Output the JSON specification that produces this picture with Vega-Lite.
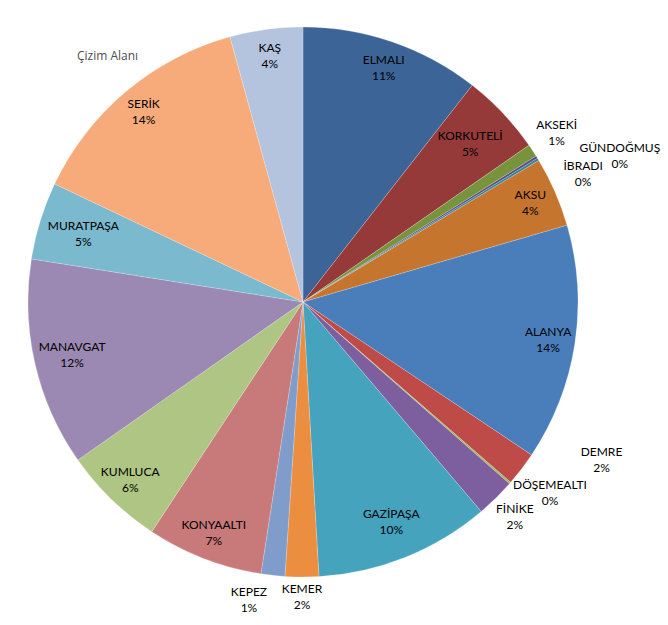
{
  "$schema": "https://vega.github.io/schema/vega-lite/v6.json",
  "width": 606,
  "height": 604,
  "padding": {"left": 0, "top": 0, "right": 62, "bottom": 21},
  "autosize": {"type": "none"},
  "background": "#ffffff",
  "title": {"text": "Çizim Alanı", "anchor": "start", "frame": "group", "orient": "top", "offset": 0, "dx": 77, "dy": 66, "fontSize": 12, "font": "Open Sans", "fontWeight": "normal", "color": "#4d4d4d"},
  "data": {
    "values": [
      {"sira": 1, "ad": "ELMALI", "deger": 10.56},
      {"sira": 2, "ad": "KORKUTELİ", "deger": 4.8},
      {"sira": 3, "ad": "AKSEKİ", "deger": 0.75},
      {"sira": 4, "ad": "GÜNDOĞMUŞ", "deger": 0.15},
      {"sira": 5, "ad": "İBRADI", "deger": 0.15},
      {"sira": 6, "ad": "AKSU", "deger": 4.1},
      {"sira": 7, "ad": "ALANYA", "deger": 13.9},
      {"sira": 8, "ad": "DEMRE", "deger": 2.0},
      {"sira": 9, "ad": "DÖŞEMEALTI", "deger": 0.1},
      {"sira": 10, "ad": "FİNİKE", "deger": 2.3},
      {"sira": 11, "ad": "GAZİPAŞA", "deger": 10.3},
      {"sira": 12, "ad": "KEMER", "deger": 1.97},
      {"sira": 13, "ad": "KEPEZ", "deger": 1.4},
      {"sira": 14, "ad": "KONYAALTI", "deger": 6.83},
      {"sira": 15, "ad": "KUMLUCA", "deger": 6.0},
      {"sira": 16, "ad": "MANAVGAT", "deger": 12.25},
      {"sira": 17, "ad": "MURATPAŞA", "deger": 4.56},
      {"sira": 18, "ad": "SERİK", "deger": 13.67},
      {"sira": 19, "ad": "KAŞ", "deger": 4.28}
    ]
  },
  "transform": [
    {"calculate": "datum.ad + '\\n' + format(datum.deger / 100, '.0%')", "as": "etiket"}
  ],
  "encoding": {
    "theta": {"field": "deger", "type": "quantitative", "stack": true},
    "order": {"field": "sira", "type": "quantitative", "sort": "ascending"}
  },
  "layer": [
    {
      "mark": {"type": "arc", "outerRadius": 275, "stroke": "#ffffff", "strokeWidth": 0.5, "strokeOpacity": 0.4},
      "encoding": {
        "color": {
          "field": "ad", "type": "nominal", "legend": null, "sort": null,
          "scale": {
            "domain": ["ELMALI", "KORKUTELİ", "AKSEKİ", "GÜNDOĞMUŞ", "İBRADI", "AKSU", "ALANYA", "DEMRE", "DÖŞEMEALTI", "FİNİKE", "GAZİPAŞA", "KEMER", "KEPEZ", "KONYAALTI", "KUMLUCA", "MANAVGAT", "MURATPAŞA", "SERİK", "KAŞ"],
            "range": ["#3C6496", "#953A39", "#77933C", "#5E4A7E", "#31849B", "#C6752F", "#4A7EBB", "#BE4B48", "#98B954", "#7D5FA0", "#46A3BE", "#EB8E40", "#7F9CCB", "#C8797A", "#AEC584", "#9B89B4", "#7AB9CE", "#F7AB7B", "#B4C3DE"]
          }
        }
      }
    },
    {
      "mark": {"type": "text", "radius": 248, "dy": -8, "lineBreak": "\n", "lineHeight": 16, "font": "Lato", "fontSize": 12, "fill": "#000000", "align": "center", "baseline": "middle"},
      "encoding": {"text": {"condition": {"test": "indexof(['ELMALI','AKSU','ALANYA','KONYAALTI','KUMLUCA','SERİK','KAŞ'], datum.ad) >= 0", "field": "etiket"}, "value": ""}}
    },
    {
      "mark": {"type": "text", "radius": 237, "dy": -8, "lineBreak": "\n", "lineHeight": 16, "font": "Lato", "fontSize": 12, "fill": "#000000", "align": "center", "baseline": "middle"},
      "encoding": {"text": {"condition": {"test": "indexof(['GAZİPAŞA','MANAVGAT'], datum.ad) >= 0", "field": "etiket"}, "value": ""}}
    },
    {
      "mark": {"type": "text", "radius": 230, "dy": -8, "lineBreak": "\n", "lineHeight": 16, "font": "Lato", "fontSize": 12, "fill": "#000000", "align": "center", "baseline": "middle"},
      "encoding": {"text": {"condition": {"test": "indexof(['KORKUTELİ','MURATPAŞA'], datum.ad) >= 0", "field": "etiket"}, "value": ""}}
    },
    {
      "mark": {"type": "text", "radius": 275, "dx": 24, "dy": -26, "lineBreak": "\n", "lineHeight": 16, "font": "Lato", "fontSize": 12, "fill": "#000000", "align": "center", "baseline": "middle"},
      "encoding": {"text": {"condition": {"test": "datum.ad === 'AKSEKİ'", "field": "etiket"}, "value": ""}}
    },
    {
      "mark": {"type": "text", "radius": 275, "dx": 83, "dy": -9, "lineBreak": "\n", "lineHeight": 16, "font": "Lato", "fontSize": 12, "fill": "#000000", "align": "center", "baseline": "middle"},
      "encoding": {"text": {"condition": {"test": "datum.ad === 'GÜNDOĞMUŞ'", "field": "etiket"}, "value": ""}}
    },
    {
      "mark": {"type": "text", "radius": 275, "dx": 45, "dy": 7, "lineBreak": "\n", "lineHeight": 16, "font": "Lato", "fontSize": 12, "fill": "#000000", "align": "center", "baseline": "middle"},
      "encoding": {"text": {"condition": {"test": "datum.ad === 'İBRADI'", "field": "etiket"}, "value": ""}}
    },
    {
      "mark": {"type": "text", "radius": 275, "dx": 80, "dy": -17, "lineBreak": "\n", "lineHeight": 16, "font": "Lato", "fontSize": 12, "fill": "#000000", "align": "center", "baseline": "middle"},
      "encoding": {"text": {"condition": {"test": "datum.ad === 'DEMRE'", "field": "etiket"}, "value": ""}}
    },
    {
      "mark": {"type": "text", "radius": 275, "dx": 40, "dy": 2, "lineBreak": "\n", "lineHeight": 16, "font": "Lato", "fontSize": 12, "fill": "#000000", "align": "center", "baseline": "middle"},
      "encoding": {"text": {"condition": {"test": "datum.ad === 'DÖŞEMEALTI'", "field": "etiket"}, "value": ""}}
    },
    {
      "mark": {"type": "text", "radius": 275, "dx": 19, "dy": 11, "lineBreak": "\n", "lineHeight": 16, "font": "Lato", "fontSize": 12, "fill": "#000000", "align": "center", "baseline": "middle"},
      "encoding": {"text": {"condition": {"test": "datum.ad === 'FİNİKE'", "field": "etiket"}, "value": ""}}
    },
    {
      "mark": {"type": "text", "radius": 275, "dx": 0, "dy": 12, "lineBreak": "\n", "lineHeight": 16, "font": "Lato", "fontSize": 12, "fill": "#000000", "align": "center", "baseline": "middle"},
      "encoding": {"text": {"condition": {"test": "datum.ad === 'KEMER'", "field": "etiket"}, "value": ""}}
    },
    {
      "mark": {"type": "text", "radius": 275, "dx": -24, "dy": 17, "lineBreak": "\n", "lineHeight": 16, "font": "Lato", "fontSize": 12, "fill": "#000000", "align": "center", "baseline": "middle"},
      "encoding": {"text": {"condition": {"test": "datum.ad === 'KEPEZ'", "field": "etiket"}, "value": ""}}
    }
  ]
}
